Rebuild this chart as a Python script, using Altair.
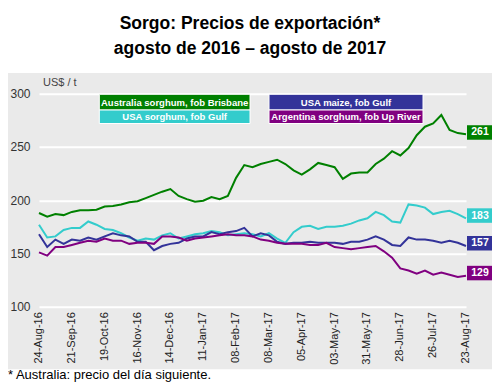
import altair as alt
import pandas as pd

# ---------------- data ----------------
dates = pd.date_range("2016-08-24", periods=53, freq="7D")

australia = [188, 184.5, 187, 186, 189, 190.5, 190.5, 191, 194, 194.5,
             196, 198, 199, 202, 205, 208, 210.5, 204, 201, 198.5,
             199.5, 203, 201, 204, 221, 233, 231, 234, 236, 238,
             234, 228, 224, 229, 235, 233, 231, 220, 225, 226,
             226, 234, 239, 246, 242, 249, 261, 269, 272, 280,
             266, 263, 262]
usa_sorghum = [177, 165, 166, 172, 174, 174, 180, 177, 173, 172,
               169, 165, 162, 164, 163, 167, 169, 164, 166, 168,
               169, 171, 170, 167, 168, 169, 168, 166, 169, 164,
               160, 170, 175, 176, 173, 175, 175, 176, 178, 181,
               183, 189, 186, 180, 179, 196, 195, 193, 187, 189,
               190, 187, 183]
usa_maize = [168, 156, 163, 159, 163, 162, 165, 163, 166, 169,
             167, 166, 161, 161, 153, 157, 159, 160, 164, 166,
             166, 170, 168, 170, 171, 174, 166, 169, 167, 161,
             159, 160, 160, 161, 160, 160, 160, 159, 161, 161,
             163, 166, 163, 158, 157, 165, 163, 163, 162, 160,
             162, 160, 157]
argentina = [151, 148, 156, 156, 158, 160, 162, 161, 164, 162,
             162, 159, 160, 160, 159, 166, 166, 165, 162, 164,
             165, 166, 167, 168, 167, 167, 166, 163, 162, 160,
             159, 159, 159, 158, 158, 160, 156, 155, 154, 155,
             156, 157, 152, 146, 136, 134, 131, 134, 130, 132,
             130, 128, 129]

series_names = ["Australia sorghum, fob Brisbane", "USA sorghum, fob Gulf",
                "USA maize, fob Gulf", "Argentina sorghum, fob Up River"]
series_colors = ["#008000", "#33CCCC", "#333399", "#800080"]
series_values = [australia, usa_sorghum, usa_maize, argentina]
end_labels = [261, 183, 157, 129]

tick_dates = pd.date_range("2016-08-24", periods=14, freq="28D")
tick_labels = [d.strftime("%d-%b-%y") for d in tick_dates]

title_lines = ["Sorgo: Precios de exportación*", "agosto de 2016 – agosto de 2017"]
footnote = "* Australia: precio del día siguiente."
unit_label = "US$ / t"

FONT = "Liberation Sans"
PANEL = "#EAEAEA"

# ---------------- tables ----------------
rows = []
for name, vals in zip(series_names, series_values):
    for d, v in zip(dates, vals):
        rows.append({"date": d, "value": v, "series": name})
df = pd.DataFrame(rows)

lab = pd.DataFrame({"date": [dates[-1]] * 4, "value": end_labels,
                    "label": [str(v) for v in end_labels], "series": series_names})

ticks_df = pd.DataFrame({"date": tick_dates, "label": tick_labels})

one = pd.DataFrame({"a": [0]})

color_scale = alt.Scale(domain=series_names, range=series_colors)
x_dom = [alt.DateTime(year=dates[0].year, month=dates[0].month, date=dates[0].day),
         alt.DateTime(year=dates[-1].year, month=dates[-1].month, date=dates[-1].day)]
x_scale = alt.Scale(domain=x_dom, nice=False)

# ---------------- layers ----------------
white_top = alt.Chart(one).mark_rect(color="white").encode(
    x=alt.value(-31), x2=alt.value(453), y=alt.value(-85.7), y2=alt.value(-20.7))
white_bottom = alt.Chart(one).mark_rect(color="white").encode(
    x=alt.value(-31), x2=alt.value(453), y=alt.value(275.5), y2=alt.value(288.3))

lines = alt.Chart(df).mark_line(strokeWidth=2).encode(
    x=alt.X("date:T", scale=x_scale, axis=None, title=None),
    y=alt.Y("value:Q", scale=alt.Scale(domain=[100, 300], nice=False),
            axis=alt.Axis(values=[100, 150, 200, 250, 300], grid=True,
                          gridColor="white", gridWidth=2, domain=False, ticks=False,
                          labelPadding=9, labelFontSize=12, labelFont=FONT,
                          labelColor="#333"),
            title=None),
    color=alt.Color("series:N", scale=color_scale, legend=None),
    detail="series:N",
)

x_labels = alt.Chart(ticks_df).mark_text(angle=270, align="right", baseline="middle",
                                         fontSize=11, font=FONT, color="#222").encode(
    x=alt.X("date:T", scale=x_scale), y=alt.value(218.5), text="label:N")

end_rects = alt.Chart(lab).mark_rect(xOffset=1, x2Offset=27, yOffset=-10, y2Offset=4.5).encode(
    x="date:T", x2="date", y="value:Q", y2="value",
    color=alt.Color("series:N", scale=color_scale, legend=None))

end_texts = alt.Chart(lab).mark_text(color="white", fontWeight="bold", fontSize=10.5,
                                     font=FONT, xOffset=14, yOffset=-2.75,
                                     align="center", baseline="middle").encode(
    x="date:T", y="value:Q", text="label:N")

legend_layers = []
boxes = [(60.3, 211, 0.6, 16.3), (60.3, 211, 16.3, 29.8),
         (230, 384, 0.6, 16.3), (230, 384, 16.3, 29.8)]
for (x0, x1, y0, y1), name, col in zip(boxes, series_names, series_colors):
    legend_layers.append(alt.Chart(one).mark_rect(color=col, stroke="white", strokeWidth=1).encode(
        x=alt.value(x0), x2=alt.value(x1), y=alt.value(y0), y2=alt.value(y1)))
    legend_layers.append(alt.Chart(one).mark_text(
        text=name, color="white", fontWeight="bold", fontSize=9.5, font=FONT,
        align="center", baseline="middle").encode(
        x=alt.value((x0 + x1) / 2), y=alt.value((y0 + y1) / 2 + 0.5)))

title1 = alt.Chart(one).mark_text(text=title_lines[0], fontSize=17.5, fontWeight="bold",
                                  font=FONT, color="black", align="center",
                                  baseline="middle").encode(
    x=alt.value(211), y=alt.value(-70))
title2 = alt.Chart(one).mark_text(text=title_lines[1], fontSize=17.5, fontWeight="bold",
                                  font=FONT, color="black", align="center",
                                  baseline="middle").encode(
    x=alt.value(211), y=alt.value(-45))
foot = alt.Chart(one).mark_text(text=footnote, fontSize=13, font=FONT, color="black",
                                align="left", baseline="alphabetic").encode(
    x=alt.value(-31), y=alt.value(285.3))
unit = alt.Chart(one).mark_text(text=unit_label, fontSize=11, font=FONT, color="#444",
                                align="left", baseline="middle").encode(
    x=alt.value(4), y=alt.value(-10.7))

chart = alt.layer(white_top, white_bottom, lines, x_labels, end_rects, end_texts,
                  *legend_layers, title1, title2, foot, unit).properties(
    width=427, height=213,
    autosize=alt.AutoSizeParams(type="none"),
    padding={"left": 31, "top": 85.7, "right": 26, "bottom": 75.3},
    background=PANEL,
).configure_view(stroke=None)

chart.save("out.html", embed_options={"renderer": "svg", "actions": False})
